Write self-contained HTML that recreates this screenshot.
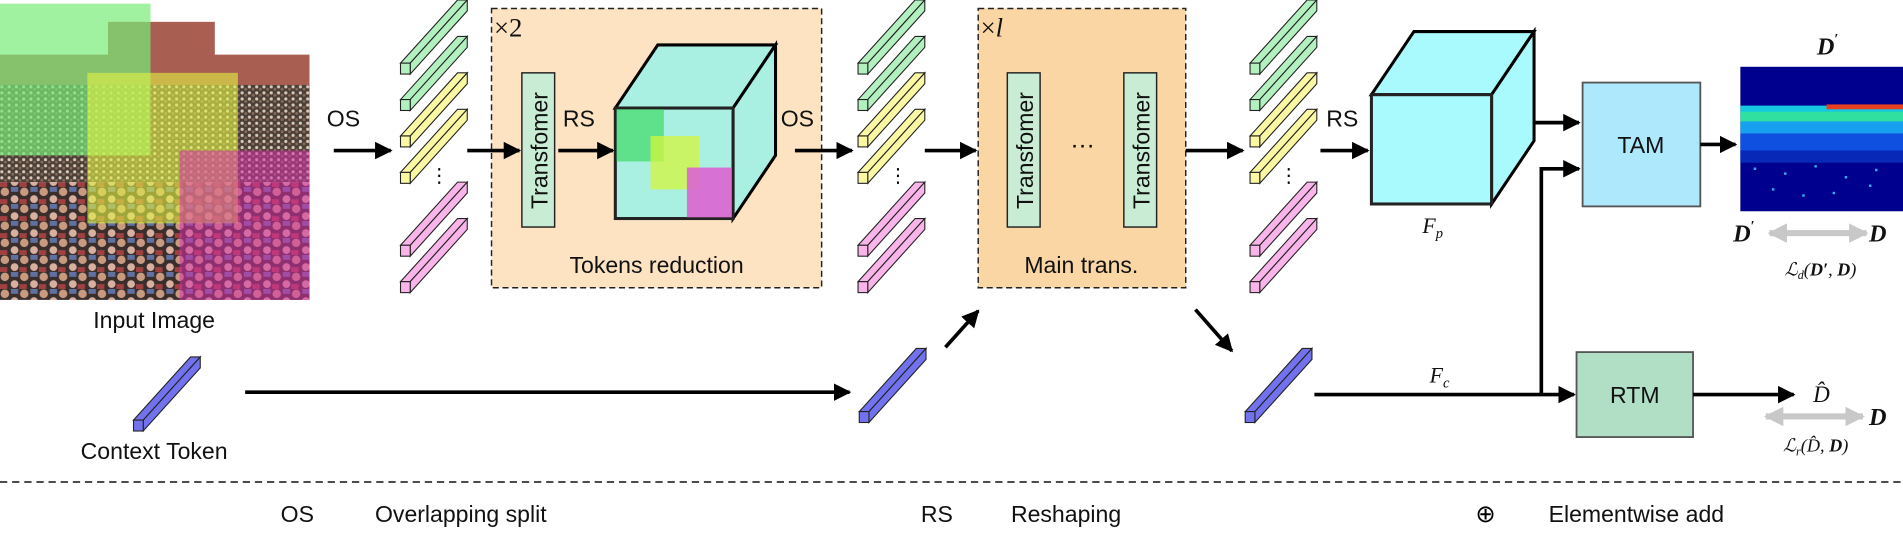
<!DOCTYPE html>
<html><head><meta charset="utf-8"><style>
html,body{margin:0;padding:0;background:#fff;}
svg{display:block;font-family:"Liberation Sans","DejaVu Sans",sans-serif;}
.t{font-size:19px;fill:#111;}
.m{font-family:"Liberation Serif","DejaVu Serif",serif;font-style:italic;fill:#111;}
</style></head><body>
<svg width="1903" height="533" viewBox="0 0 1568 439" preserveAspectRatio="none" xmlns="http://www.w3.org/2000/svg">
<defs>
<marker id="ah" viewBox="0 0 10 10" refX="9" refY="5" markerWidth="4.8" markerHeight="4.8" orient="auto" markerUnits="strokeWidth"><path d="M0,0 L10,5 L0,10 z" fill="#000"/></marker>
<marker id="gh" viewBox="0 0 10 10" refX="9" refY="5" markerWidth="3.2" markerHeight="3.2" orient="auto-start-reverse" markerUnits="strokeWidth"><path d="M0,0 L10,5 L0,10 z" fill="#c8c8c8"/></marker>
<g id="tok">
<polygon points="0,-9 47,-61 55,-61 8,-9" fill="currentColor" stroke="#222" stroke-width="0.9"/>
<polygon points="8,-9 55,-61 55,-52 8,0" fill="currentColor" stroke="#222" stroke-width="0.9"/>
<rect x="0" y="-9" width="8" height="9" fill="currentColor" stroke="#222" stroke-width="0.9"/>
</g>
<pattern id="crowdS" width="6" height="5" patternUnits="userSpaceOnUse">
<rect width="6" height="5" fill="#4a4038"/>
<circle cx="1.5" cy="1.5" r="1.3" fill="#d8c8b8"/><circle cx="4.5" cy="3.5" r="1.2" fill="#8a6a58"/>
</pattern>
<pattern id="crowdL" width="16" height="14" patternUnits="userSpaceOnUse">
<rect width="16" height="14" fill="#3a2e2c"/>
<circle cx="4" cy="4" r="3.5" fill="#c89a80"/><circle cx="12" cy="10" r="3.2" fill="#d8b0a0"/><rect x="9" y="0" width="6" height="4" fill="#6070a0"/><rect x="0" y="10" width="6" height="4" fill="#a04040"/>
</pattern>
</defs>

<!-- input image -->
<rect x="0" y="0" width="255" height="247" fill="#fff"/>
<rect x="0" y="45" width="255" height="26" fill="#a85e50"/>
<rect x="89" y="18" width="88" height="40" fill="#a85e50"/>
<rect x="0" y="70" width="255" height="80" fill="url(#crowdS)"/>
<rect x="0" y="150" width="255" height="97" fill="url(#crowdL)"/>
<rect x="0" y="3" width="124" height="125" fill="rgba(120,235,120,0.7)"/>
<rect x="72" y="60" width="124" height="124" fill="rgba(225,240,70,0.62)"/>
<rect x="148" y="124" width="107" height="123" fill="rgba(215,50,170,0.55)"/>
<text class="t" x="127" y="270" text-anchor="middle">Input Image</text>

<!-- OS arrow -->
<text class="t" x="283" y="104" text-anchor="middle">OS</text>
<line x1="275" y1="124" x2="322" y2="124" stroke="#000" stroke-width="3" marker-end="url(#ah)"/>

<!-- token col 1 -->
<use href="#tok" x="330" y="61" style="color:#b3f0c0"/>
<use href="#tok" x="330" y="91" style="color:#b3f0c0"/>
<use href="#tok" x="330" y="121" style="color:#fbf8a4"/>
<use href="#tok" x="330" y="151" style="color:#fbf8a4"/>
<use href="#tok" x="330" y="211" style="color:#f9b4ea"/>
<use href="#tok" x="330" y="241" style="color:#f9b4ea"/>
<text x="362" y="150" font-size="16" text-anchor="middle">⋮</text>

<!-- box 1 -->
<rect x="405" y="7" width="272" height="230" fill="#fde3c2" stroke="#222" stroke-width="1.2" stroke-dasharray="5,3"/>
<text x="407" y="30" font-size="22" class="m" style="font-style:normal">×2</text>
<line x1="385" y1="124" x2="428" y2="124" stroke="#000" stroke-width="3" marker-end="url(#ah)"/>
<rect x="430" y="60" width="27" height="127" fill="#c9ecd4" stroke="#222" stroke-width="1.2"/>
<text class="t" transform="translate(451,124) rotate(-90)" text-anchor="middle" font-size="18">Transfomer</text>
<text class="t" x="477" y="104" text-anchor="middle">RS</text>
<line x1="460" y1="124" x2="505" y2="124" stroke="#000" stroke-width="3" marker-end="url(#ah)"/>
<!-- cube 1 -->
<polygon points="507,89 542,37 639,37 604,89" fill="#aaf0e2" stroke="#000" stroke-width="2.5"/>
<polygon points="604,89 639,37 639,128 604,180" fill="#aaf0e2" stroke="#000" stroke-width="2.5"/>
<rect x="507" y="89" width="97" height="91" fill="#aaf0e2" stroke="#222" stroke-width="2.5"/>
<rect x="508" y="90" width="39" height="43" fill="rgba(70,220,110,0.75)"/>
<rect x="536" y="112" width="40" height="44" fill="rgba(210,245,60,0.75)"/>
<rect x="566" y="138" width="37" height="41" fill="rgba(220,100,210,0.9)"/>
<text class="t" x="541" y="225" text-anchor="middle" font-size="20">Tokens reduction</text>

<text class="t" x="657" y="104" text-anchor="middle">OS</text>
<line x1="655" y1="124" x2="702" y2="124" stroke="#000" stroke-width="3" marker-end="url(#ah)"/>

<!-- token col 2 -->
<use href="#tok" x="707" y="61" style="color:#b3f0c0"/>
<use href="#tok" x="707" y="91" style="color:#b3f0c0"/>
<use href="#tok" x="707" y="121" style="color:#fbf8a4"/>
<use href="#tok" x="707" y="151" style="color:#fbf8a4"/>
<use href="#tok" x="707" y="211" style="color:#f9b4ea"/>
<use href="#tok" x="707" y="241" style="color:#f9b4ea"/>
<text x="740" y="150" font-size="16" text-anchor="middle">⋮</text>

<!-- box 2 -->
<rect x="806" y="7" width="171" height="230" fill="#f9d6a4" stroke="#222" stroke-width="1.2" stroke-dasharray="5,3"/>
<text x="808" y="30" font-size="22" class="m" style="font-style:normal">×<tspan font-style="italic">l</tspan></text>
<line x1="762" y1="124" x2="804" y2="124" stroke="#000" stroke-width="3" marker-end="url(#ah)"/>
<rect x="830" y="60" width="27" height="127" fill="#c9ecd4" stroke="#222" stroke-width="1.2"/>
<text class="t" transform="translate(851,124) rotate(-90)" text-anchor="middle" font-size="18">Transfomer</text>
<rect x="926" y="60" width="27" height="127" fill="#c9ecd4" stroke="#222" stroke-width="1.2"/>
<text class="t" transform="translate(947,124) rotate(-90)" text-anchor="middle" font-size="18">Transfomer</text>
<text x="892" y="126" font-size="20" text-anchor="middle">···</text>
<text class="t" x="891" y="225" text-anchor="middle" font-size="20">Main trans.</text>
<line x1="977" y1="124" x2="1024" y2="124" stroke="#000" stroke-width="3" marker-end="url(#ah)"/>

<!-- token col 3 -->
<use href="#tok" x="1030" y="61" style="color:#b3f0c0"/>
<use href="#tok" x="1030" y="91" style="color:#b3f0c0"/>
<use href="#tok" x="1030" y="121" style="color:#fbf8a4"/>
<use href="#tok" x="1030" y="151" style="color:#fbf8a4"/>
<use href="#tok" x="1030" y="211" style="color:#f9b4ea"/>
<use href="#tok" x="1030" y="241" style="color:#f9b4ea"/>
<text x="1062" y="150" font-size="16" text-anchor="middle">⋮</text>

<text class="t" x="1106" y="104" text-anchor="middle">RS</text>
<line x1="1088" y1="124" x2="1127" y2="124" stroke="#000" stroke-width="3" marker-end="url(#ah)"/>

<!-- cube 2 -->
<polygon points="1130,78 1165,26 1264,26 1229,78" fill="#a8fafc" stroke="#000" stroke-width="2.5"/>
<polygon points="1229,78 1264,26 1264,116 1229,168" fill="#a8fafc" stroke="#000" stroke-width="2.5"/>
<rect x="1130" y="78" width="99" height="90" fill="#a8fafc" stroke="#222" stroke-width="2.5"/>
<text class="m" x="1172" y="192" font-size="18">F<tspan font-size="12" dy="4">p</tspan></text>

<!-- to TAM -->
<line x1="1264" y1="101" x2="1301" y2="101" stroke="#000" stroke-width="3" marker-end="url(#ah)"/>
<polyline points="1270,325 1270,139 1301,139" fill="none" stroke="#000" stroke-width="3" marker-end="url(#ah)"/>
<rect x="1304" y="68" width="97" height="102" fill="#ade8fc" stroke="#555" stroke-width="1.5"/>
<text class="t" x="1352" y="126" text-anchor="middle">TAM</text>
<line x1="1401" y1="119" x2="1430" y2="119" stroke="#000" stroke-width="3" marker-end="url(#ah)"/>

<!-- heatmap -->
<rect x="1434" y="55" width="134" height="119" fill="#00008e"/>
<rect x="1434" y="87" width="134" height="8" fill="#14c8e0"/>
<rect x="1505" y="86" width="63" height="4" fill="#e84020"/>
<rect x="1434" y="92" width="134" height="12" fill="#30e0a0"/>
<rect x="1434" y="100" width="134" height="10" fill="#18a0f0"/>
<rect x="1434" y="110" width="134" height="14" fill="#1050e0"/>
<rect x="1434" y="124" width="134" height="10" fill="#0828b8"/>
<g fill="#30b0f0">
<rect x="1445" y="138" width="2" height="2"/><rect x="1470" y="142" width="2" height="2"/><rect x="1495" y="136" width="2" height="2"/><rect x="1520" y="145" width="2" height="2"/><rect x="1545" y="139" width="2" height="2"/><rect x="1460" y="155" width="2" height="2"/><rect x="1510" y="158" width="2" height="2"/><rect x="1540" y="152" width="2" height="2"/><rect x="1485" y="160" width="2" height="2"/>
</g>
<text class="m" x="1497" y="45" font-size="20" font-weight="bold">D<tspan font-size="12" dy="-9" font-style="normal">′</tspan></text>
<text class="m" x="1428" y="199" font-size="20" font-weight="bold">D<tspan font-size="12" dy="-9" font-style="normal">′</tspan></text>
<line x1="1458" y1="192" x2="1538" y2="192" stroke="#c8c8c8" stroke-width="5" marker-start="url(#gh)" marker-end="url(#gh)"/>
<text class="m" x="1540" y="199" font-size="20" font-weight="bold">D</text>
<text class="m" x="1500" y="227" font-size="15" text-anchor="middle">ℒ<tspan font-size="10" dy="3">d</tspan><tspan dy="-3">(</tspan><tspan font-weight="bold">D′</tspan>, <tspan font-weight="bold">D</tspan>)</text>

<!-- context token row -->
<use href="#tok" x="110" y="355" style="color:#7272ee"/>
<text class="t" x="127" y="378" text-anchor="middle">Context Token</text>
<line x1="202" y1="323" x2="700" y2="323" stroke="#000" stroke-width="3" marker-end="url(#ah)"/>
<use href="#tok" x="708" y="348" style="color:#7272ee"/>
<line x1="779" y1="286" x2="806" y2="256" stroke="#000" stroke-width="3" marker-end="url(#ah)"/>
<line x1="985" y1="255" x2="1015" y2="289" stroke="#000" stroke-width="3" marker-end="url(#ah)"/>
<use href="#tok" x="1026" y="348" style="color:#7272ee"/>
<line x1="1083" y1="325" x2="1297" y2="325" stroke="#000" stroke-width="3" marker-end="url(#ah)"/>
<text class="m" x="1178" y="315" font-size="18">F<tspan font-size="12" dy="4">c</tspan></text>
<rect x="1299" y="290" width="96" height="70" fill="#b0dfc6" stroke="#555" stroke-width="1.5"/>
<text class="t" x="1347" y="332" text-anchor="middle">RTM</text>
<line x1="1395" y1="325" x2="1478" y2="325" stroke="#000" stroke-width="3" marker-end="url(#ah)"/>
<text class="m" x="1494" y="331" font-size="19">D̂</text>
<line x1="1455" y1="343" x2="1535" y2="343" stroke="#c8c8c8" stroke-width="5" marker-start="url(#gh)" marker-end="url(#gh)"/>
<text class="m" x="1540" y="350" font-size="20" font-weight="bold">D</text>
<text class="m" x="1496" y="372" font-size="15" text-anchor="middle">ℒ<tspan font-size="10" dy="3">r</tspan><tspan dy="-3">(D̂, </tspan><tspan font-weight="bold">D</tspan>)</text>

<!-- legend -->
<line x1="0" y1="397" x2="1568" y2="397" stroke="#111" stroke-width="1.3" stroke-dasharray="6,4"/>
<text class="t" x="245" y="430" text-anchor="middle">OS</text>
<text class="t" x="309" y="430">Overlapping split</text>
<text class="t" x="772" y="430" text-anchor="middle">RS</text>
<text class="t" x="833" y="430">Reshaping</text>
<text x="1224" y="430" font-size="20" text-anchor="middle" font-family="DejaVu Sans, sans-serif">⊕</text>
<text class="t" x="1276" y="430">Elementwise add</text>
</svg>
</body></html>
